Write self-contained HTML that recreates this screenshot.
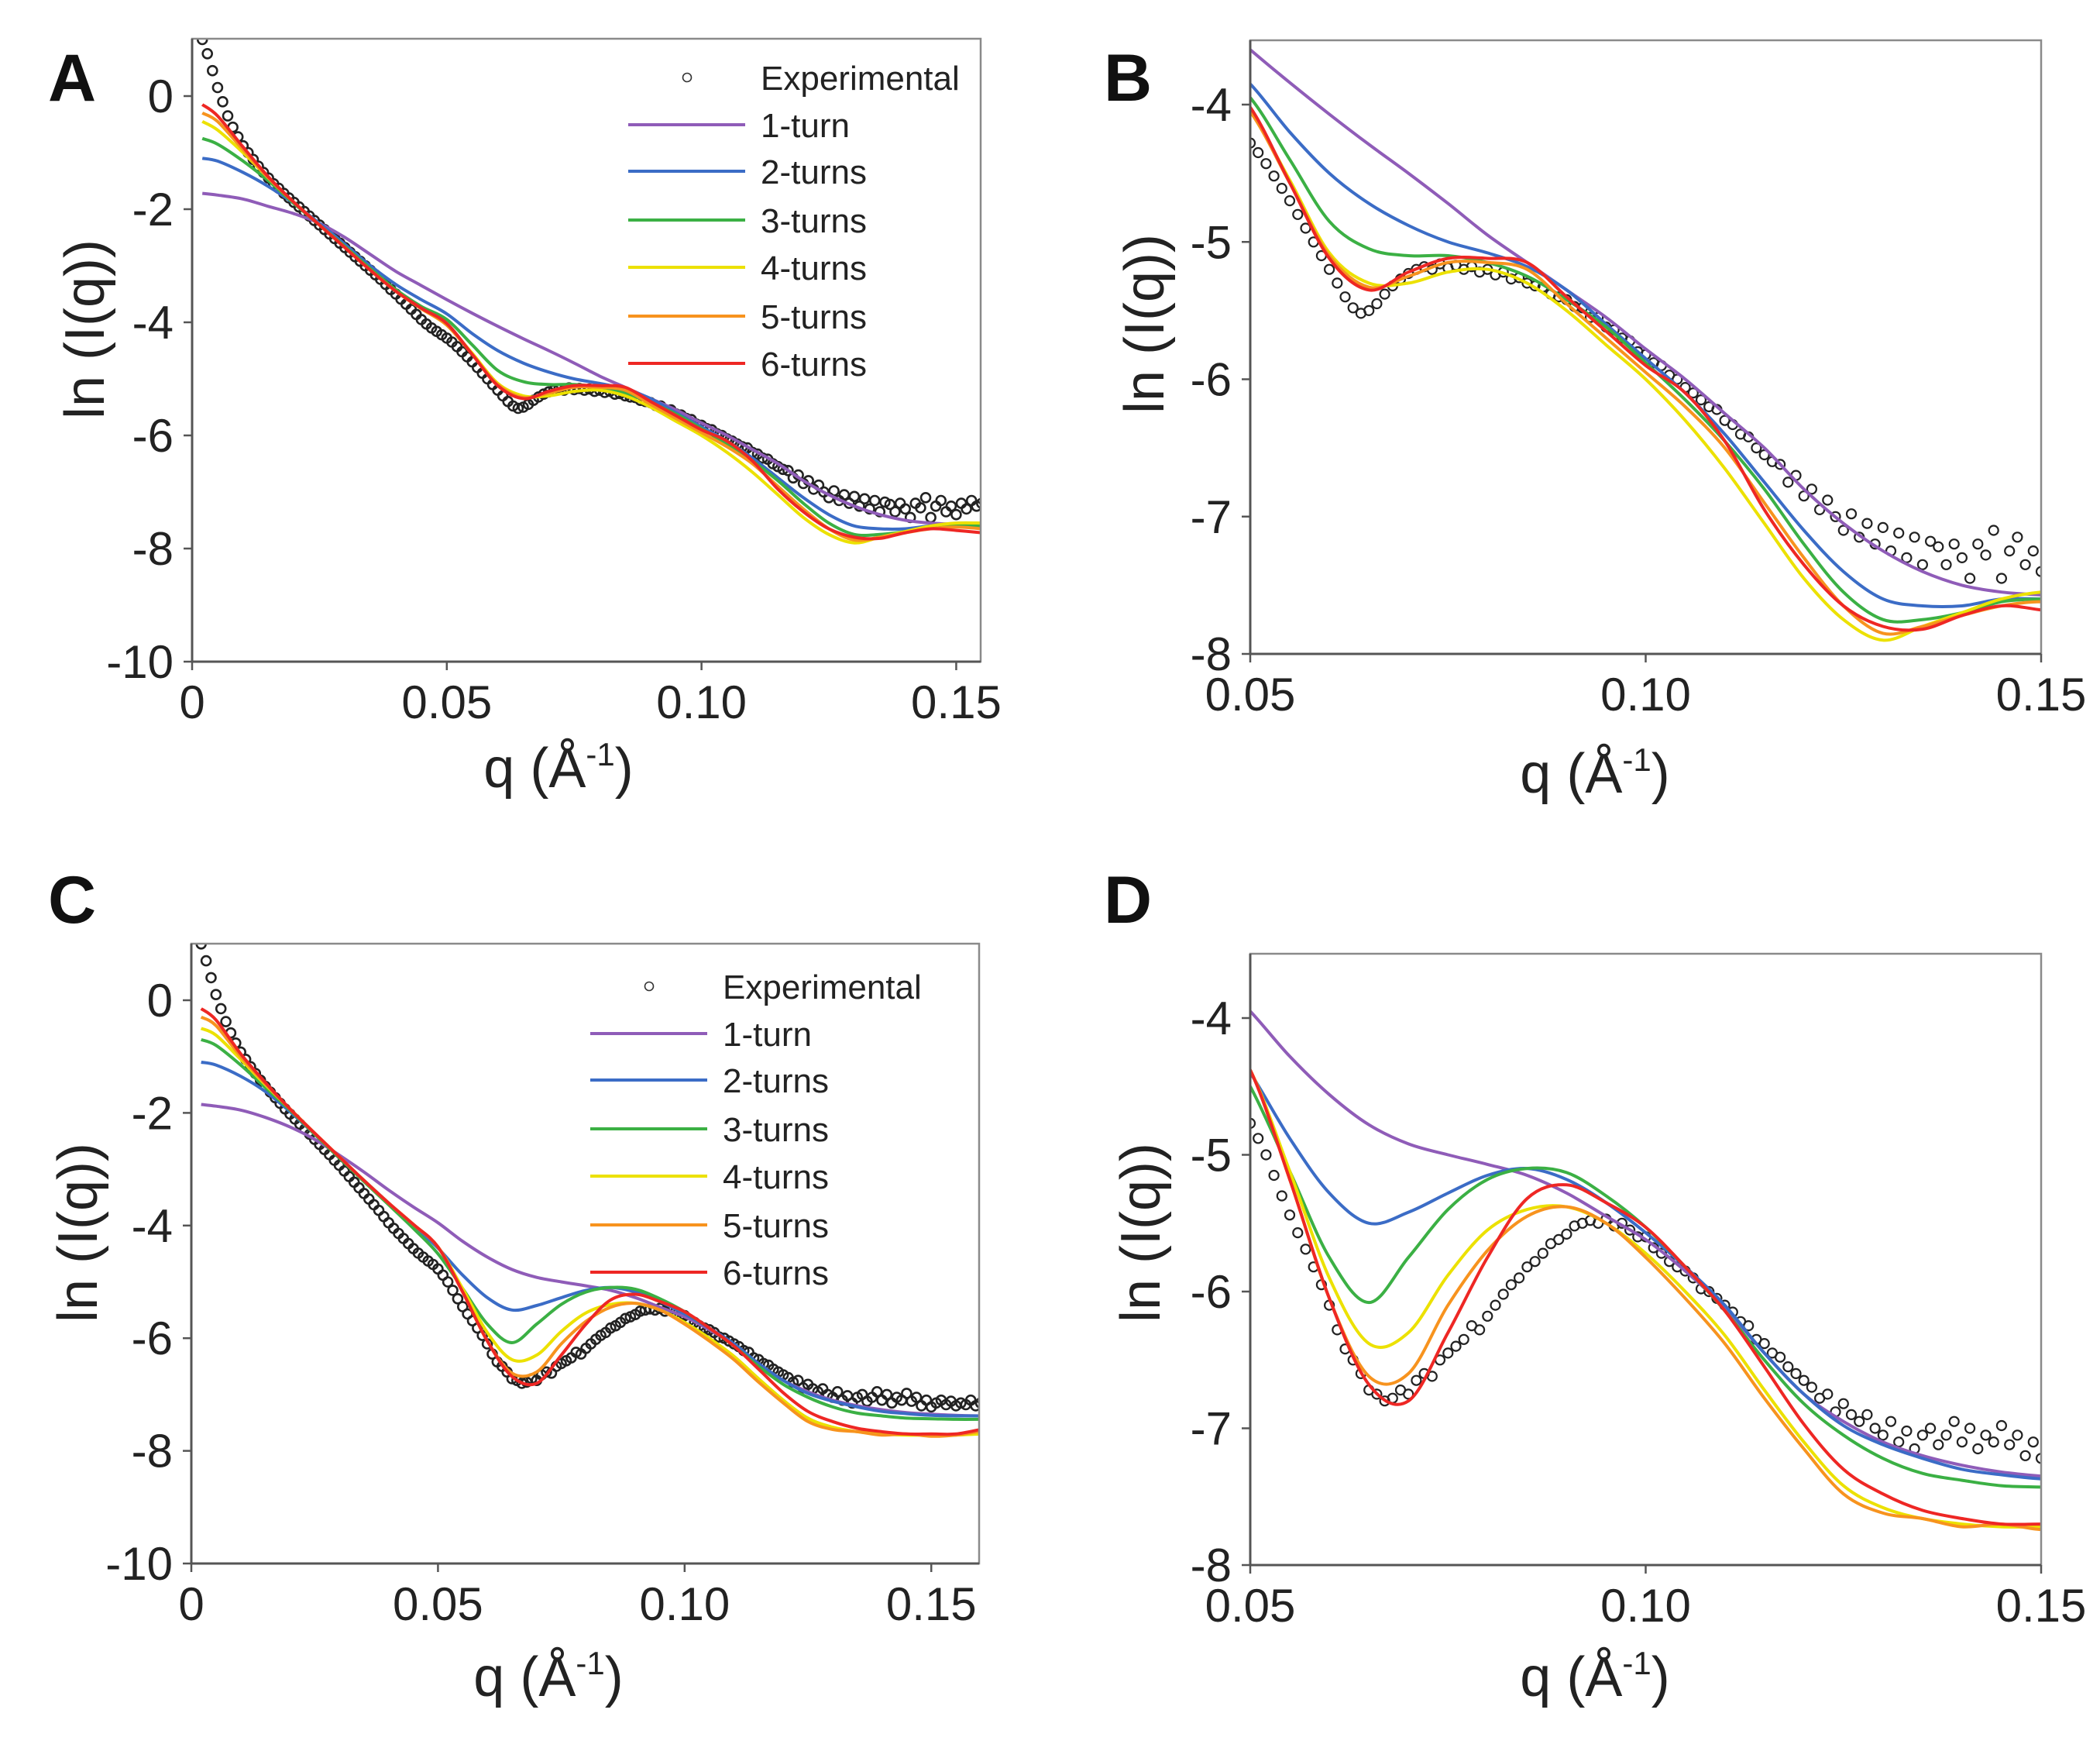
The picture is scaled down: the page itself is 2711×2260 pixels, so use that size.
<!DOCTYPE html>
<html><head><meta charset="utf-8"><style>
html,body{margin:0;padding:0;background:#fff;}
svg{display:block;font-family:"Liberation Sans",Arial,sans-serif;}
</style></head><body>
<svg id="fig" width="2711" height="2260" viewBox="0 0 2711 2260" xmlns="http://www.w3.org/2000/svg">
<rect x="0" y="0" width="2711" height="2260" fill="#fff"/>
</svg>
<script>
// ---------- Data set 1 (panels A & B) ----------
const expQ1 = [.002,.003,.004,.005,.006,.007,.008,.009,.010,.011,.012,.013,.014,.015,.016,.017,.018,.019,.020,.021,.022,.023,.024,.025,.026,.027,.028,.029,.030,.031,.032,.033,.034,.035,.036,.037,.038,.039,.040,.041,.042,.043,.044,.045,.046,.047,.048,.049,.050,.051,.052,.053,.054,.055,.056,.057,.058,.059,.060,.061,.062,.063,.064,.065,.066,.067,.068,.069,.070,.071,.072,.073,.074,.075,.076,.077,.078,.079,.080,.081,.082,.083,.084,.085,.086,.087,.088,.089,.090,.091,.092,.093,.094,.095,.096,.097,.098,.099,.100,.101,.102,.103,.104,.105,.106,.107,.108,.109,.110,.111,.112,.113,.114,.115,.116,.117,.118,.119,.120,.121,.122,.123,.124,.125,.126,.127,.128,.129,.130,.131,.132,.133,.134,.135,.136,.137,.138,.139,.140,.141,.142,.143,.144,.145,.146,.147,.148,.149,.150,.151,.152,.153,.154,.155];
const expY1 = [1.0,0.75,0.45,0.15,-0.1,-0.35,-0.55,-0.72,-0.88,-1.0,
-1.12,-1.24,-1.35,-1.45,-1.55,-1.63,-1.72,-1.8,-1.88,-1.96,
-2.04,-2.12,-2.2,-2.28,-2.36,-2.44,-2.52,-2.6,-2.68,-2.76,
-2.84,-2.92,-3.0,-3.08,-3.16,-3.24,-3.33,-3.42,-3.5,-3.59,
-3.68,-3.77,-3.86,-3.95,-4.03,-4.1,-4.16,-4.22,-4.28,-4.35,
-4.43,-4.52,-4.61,-4.7,-4.8,-4.9,-5.0,-5.1,-5.2,-5.3,
-5.4,-5.48,-5.52,-5.5,-5.45,-5.38,-5.32,-5.27,-5.23,-5.2,
-5.18,-5.2,-5.16,-5.19,-5.17,-5.2,-5.18,-5.22,-5.2,-5.24,
-5.22,-5.27,-5.26,-5.3,-5.32,-5.33,-5.38,-5.4,-5.42,-5.47,
-5.48,-5.55,-5.55,-5.62,-5.64,-5.7,-5.72,-5.8,-5.82,-5.88,
-5.9,-5.97,-6.0,-6.06,-6.1,-6.15,-6.2,-6.22,-6.3,-6.33,
-6.4,-6.42,-6.5,-6.55,-6.6,-6.62,-6.75,-6.7,-6.85,-6.8,
-6.95,-6.88,-7.0,-7.1,-6.98,-7.15,-7.05,-7.2,-7.08,-7.25,
-7.12,-7.3,-7.15,-7.35,-7.18,-7.22,-7.35,-7.2,-7.3,-7.45,
-7.2,-7.28,-7.1,-7.45,-7.25,-7.15,-7.35,-7.25,-7.4,-7.2,
-7.3,-7.15,-7.25,-7.2];
const modelQ1 = [.002,.005,.01,.015,.02,.025,.03,.035,.04,.045,.05,.055,.06,.065,.07,.075,.08,.085,.09,.095,.1,.105,.11,.115,.12,.125,.13,.135,.14,.145,.15,.155];
const turn1_A = [-1.72,-1.75,-1.82,-1.95,-2.08,-2.25,-2.5,-2.8,-3.1,-3.35,-3.6,-3.84,-4.07,-4.29,-4.5,-4.72,-4.95,-5.15,-5.35,-5.55,-5.78,-6.0,-6.25,-6.5,-6.8,-7.05,-7.25,-7.4,-7.5,-7.55,-7.57,-7.58];
const turn2_A = [-1.1,-1.15,-1.35,-1.6,-1.9,-2.25,-2.62,-3.0,-3.33,-3.6,-3.85,-4.2,-4.5,-4.72,-4.88,-5.0,-5.08,-5.18,-5.35,-5.6,-5.85,-6.1,-6.4,-6.75,-7.1,-7.4,-7.6,-7.65,-7.65,-7.6,-7.6,-7.6];
const turn3_A = [-0.75,-0.85,-1.15,-1.5,-1.9,-2.28,-2.66,-3.05,-3.42,-3.72,-3.95,-4.4,-4.85,-5.05,-5.1,-5.1,-5.15,-5.25,-5.42,-5.62,-5.88,-6.15,-6.45,-6.8,-7.2,-7.55,-7.75,-7.75,-7.7,-7.62,-7.6,-7.6];
const turn4_A = [-0.45,-0.6,-1.0,-1.45,-1.88,-2.28,-2.68,-3.08,-3.45,-3.76,-4.05,-4.55,-5.08,-5.3,-5.3,-5.22,-5.2,-5.3,-5.5,-5.75,-6.0,-6.3,-6.65,-7.05,-7.45,-7.75,-7.9,-7.8,-7.7,-7.6,-7.55,-7.55];
const turn5_A = [-0.3,-0.45,-0.95,-1.45,-1.88,-2.28,-2.68,-3.08,-3.45,-3.76,-4.05,-4.57,-5.1,-5.33,-5.25,-5.15,-5.15,-5.2,-5.45,-5.7,-5.95,-6.2,-6.5,-6.9,-7.3,-7.65,-7.85,-7.8,-7.72,-7.65,-7.62,-7.65];
const turn6_A = [-0.15,-0.35,-0.9,-1.43,-1.88,-2.28,-2.68,-3.08,-3.45,-3.75,-4.02,-4.57,-5.12,-5.35,-5.22,-5.12,-5.12,-5.15,-5.4,-5.65,-5.9,-6.1,-6.45,-6.95,-7.35,-7.65,-7.8,-7.82,-7.72,-7.65,-7.68,-7.72];

// ---------- Data set 2 (panels C & D) ----------
const expQ2 = [.002,.003,.004,.005,.006,.007,.008,.009,.010,.011,.012,.013,.014,.015,.016,.017,.018,.019,.020,.021,.022,.023,.024,.025,.026,.027,.028,.029,.030,.031,.032,.033,.034,.035,.036,.037,.038,.039,.040,.041,.042,.043,.044,.045,.046,.047,.048,.049,.050,.051,.052,.053,.054,.055,.056,.057,.058,.059,.060,.061,.062,.063,.064,.065,.066,.067,.068,.069,.070,.071,.072,.073,.074,.075,.076,.077,.078,.079,.080,.081,.082,.083,.084,.085,.086,.087,.088,.089,.090,.091,.092,.093,.094,.095,.096,.097,.098,.099,.100,.101,.102,.103,.104,.105,.106,.107,.108,.109,.110,.111,.112,.113,.114,.115,.116,.117,.118,.119,.120,.121,.122,.123,.124,.125,.126,.127,.128,.129,.130,.131,.132,.133,.134,.135,.136,.137,.138,.139,.140,.141,.142,.143,.144,.145,.146,.147,.148,.149,.150,.151,.152,.153,.154,.155,.156,.157,.158,.159,.160];
const expY2 = [1.0,0.7,0.4,0.1,-0.15,-0.38,-0.58,-0.76,-0.92,-1.05,
-1.18,-1.3,-1.42,-1.53,-1.63,-1.73,-1.83,-1.93,-2.02,-2.11,
-2.2,-2.29,-2.38,-2.47,-2.56,-2.65,-2.74,-2.84,-2.93,-3.03,
-3.13,-3.23,-3.33,-3.43,-3.53,-3.63,-3.73,-3.84,-3.95,-4.05,
-4.14,-4.23,-4.32,-4.41,-4.49,-4.56,-4.63,-4.69,-4.77,-4.88,
-5.0,-5.15,-5.3,-5.44,-5.57,-5.69,-5.82,-5.95,-6.1,-6.28,
-6.42,-6.5,-6.6,-6.72,-6.75,-6.8,-6.78,-6.72,-6.75,-6.65,
-6.6,-6.62,-6.5,-6.45,-6.4,-6.35,-6.25,-6.28,-6.18,-6.1,
-6.02,-5.95,-5.9,-5.82,-5.78,-5.72,-5.65,-5.62,-5.58,-5.52,
-5.5,-5.48,-5.5,-5.47,-5.52,-5.5,-5.55,-5.6,-5.6,-5.68,
-5.72,-5.78,-5.82,-5.85,-5.9,-5.98,-6.0,-6.05,-6.1,-6.15,
-6.22,-6.25,-6.35,-6.38,-6.45,-6.48,-6.55,-6.6,-6.65,-6.7,
-6.78,-6.75,-6.88,-6.82,-6.9,-6.95,-6.9,-7.0,-7.05,-6.95,
-7.1,-7.02,-7.15,-7.05,-7.0,-7.12,-7.05,-6.95,-7.1,-7.0,
-7.15,-7.05,-7.1,-6.98,-7.12,-7.05,-7.2,-7.1,-7.22,-7.15,
-7.1,-7.18,-7.12,-7.2,-7.15,-7.18,-7.1,-7.2,-7.15];
const modelQ2 = [.002,.005,.01,.015,.02,.025,.03,.035,.04,.045,.05,.055,.06,.065,.07,.075,.08,.085,.09,.095,.1,.105,.11,.115,.12,.125,.13,.135,.14,.145,.15,.155,.16];
const turn1_C = [-1.85,-1.88,-1.95,-2.08,-2.25,-2.47,-2.75,-3.05,-3.37,-3.67,-3.95,-4.28,-4.56,-4.78,-4.92,-5.0,-5.07,-5.15,-5.28,-5.45,-5.62,-5.85,-6.12,-6.45,-6.75,-6.95,-7.1,-7.2,-7.27,-7.32,-7.35,-7.37,-7.38];
const turn2_C = [-1.1,-1.15,-1.35,-1.62,-1.98,-2.38,-2.8,-3.2,-3.6,-4.0,-4.4,-4.88,-5.28,-5.5,-5.42,-5.28,-5.15,-5.1,-5.18,-5.35,-5.57,-5.82,-6.1,-6.45,-6.75,-6.98,-7.12,-7.22,-7.3,-7.34,-7.37,-7.38,-7.38];
const turn3_C = [-0.7,-0.8,-1.15,-1.55,-1.95,-2.38,-2.8,-3.22,-3.63,-4.05,-4.5,-5.12,-5.75,-6.08,-5.75,-5.4,-5.18,-5.1,-5.13,-5.3,-5.53,-5.82,-6.14,-6.5,-6.82,-7.05,-7.22,-7.33,-7.38,-7.42,-7.43,-7.44,-7.44];
const turn4_C = [-0.5,-0.62,-1.05,-1.5,-1.93,-2.36,-2.78,-3.2,-3.6,-3.98,-4.38,-5.12,-5.9,-6.38,-6.3,-5.88,-5.55,-5.4,-5.38,-5.5,-5.72,-6.0,-6.32,-6.72,-7.1,-7.42,-7.58,-7.66,-7.7,-7.72,-7.72,-7.72,-7.7];
const turn5_C = [-0.3,-0.45,-1.0,-1.48,-1.93,-2.36,-2.78,-3.2,-3.6,-3.98,-4.38,-5.18,-6.05,-6.62,-6.6,-6.1,-5.7,-5.45,-5.38,-5.5,-5.75,-6.05,-6.38,-6.78,-7.15,-7.48,-7.62,-7.66,-7.72,-7.7,-7.74,-7.72,-7.65];
const turn6_C = [-0.15,-0.35,-0.95,-1.46,-1.93,-2.36,-2.78,-3.2,-3.6,-3.98,-4.38,-5.18,-6.05,-6.68,-6.8,-6.3,-5.75,-5.32,-5.22,-5.35,-5.53,-5.82,-6.14,-6.55,-6.97,-7.3,-7.48,-7.6,-7.66,-7.7,-7.7,-7.7,-7.62];

// ---------- Ticks / legend ----------
const xTicksFull = [0, 0.05, 0.10, 0.15];
const xTickLabelsFull = ['0', '0.05', '0.10', '0.15'];
const yTicksFull = [0, -2, -4, -6, -8, -10];
const yTickLabelsFull = ['0', '-2', '-4', '-6', '-8', '-10'];
const xTicksZoom = [0.05, 0.10, 0.15];
const xTickLabelsZoom = ['0.05', '0.10', '0.15'];
const yTicksZoom = [-4, -5, -6, -7, -8];
const yTickLabelsZoom = ['-4', '-5', '-6', '-7', '-8'];
const seriesNames = ['1-turn', '2-turns', '3-turns', '4-turns', '5-turns', '6-turns'];
const seriesColors = ['#8f5cb8', '#3b6cc6', '#3bb044', '#ece100', '#f7931e', '#ee2724'];

const NS = 'http://www.w3.org/2000/svg';
const svg = document.getElementById('fig');
function mk(tag, attrs, parent) {
  const e = document.createElementNS(NS, tag);
  for (const k in attrs) e.setAttribute(k, attrs[k]);
  (parent || svg).appendChild(e);
  return e;
}

function smoothPath(pts) {
  let d = 'M' + pts[0][0].toFixed(1) + ',' + pts[0][1].toFixed(1);
  for (let i = 0; i < pts.length - 1; i++) {
    const p0 = pts[Math.max(0, i - 1)], p1 = pts[i], p2 = pts[i + 1], p3 = pts[Math.min(pts.length - 1, i + 2)];
    const c1x = p1[0] + (p2[0] - p0[0]) / 6, c1y = p1[1] + (p2[1] - p0[1]) / 6;
    const c2x = p2[0] - (p3[0] - p1[0]) / 6, c2y = p2[1] - (p3[1] - p1[1]) / 6;
    d += ' C' + c1x.toFixed(1) + ',' + c1y.toFixed(1) + ' ' + c2x.toFixed(1) + ',' + c2y.toFixed(1) + ' ' + p2[0].toFixed(1) + ',' + p2[1].toFixed(1);
  }
  return d;
}

function panel(cfg) {
  const g = mk('g', {});
  
  
  const sx = q => cfg.left + (q - cfg.xmin) / (cfg.xmax - cfg.xmin) * (cfg.right - cfg.left);
  const sy = v => cfg.ty0 + (v - cfg.yv0) / (cfg.yv1 - cfg.yv0) * (cfg.ty1 - cfg.ty0);
  const clipId = 'clip' + cfg.id;
  const cp = mk('clipPath', { id: clipId }, g);
  mk('rect', { x: cfg.left, y: cfg.top, width: cfg.right - cfg.left, height: cfg.bottom - cfg.top }, cp);

  const L = mk('text', { x: cfg.letterX, y: cfg.letterY, 'font-size': 86, 'font-weight': 'bold', fill: '#111' }, g);
  L.textContent = cfg.id;
  
  

  const plot = mk('g', { 'clip-path': 'url(#' + clipId + ')' }, g);
  
  

  const eg = mk('g', { fill: 'none', stroke: '#222', 'stroke-width': cfg.ptStroke }, plot);
  
  
  for (let i = 0; i < cfg.expQ.length; i++) {
    if (cfg.expQ[i] < cfg.xmin - 0.001) continue;
    const c = mk('circle', { cx: sx(cfg.expQ[i]).toFixed(1), cy: sy(cfg.expY[i]).toFixed(1), r: cfg.ptR }, eg);
    
    
  }
  cfg.models.forEach((ys, si) => {
    const pts = [];
    for (let i = 0; i < cfg.modelQ.length; i++) pts.push([sx(cfg.modelQ[i]), sy(ys[i])]);
    const p = mk('path', { d: smoothPath(pts), fill: 'none', stroke: seriesColors[si], 'stroke-width': 4, 'stroke-linejoin': 'round' }, plot);
    
    
  });

  const fr = mk('rect', { x: cfg.left, y: cfg.top, width: cfg.right - cfg.left, height: cfg.bottom - cfg.top, fill: 'none', stroke: '#8a8a8a', 'stroke-width': 2.5 }, g);
  
  
  mk('line', { x1: cfg.left, y1: cfg.top, x2: cfg.left, y2: cfg.bottom, stroke: '#555', 'stroke-width': 3 }, g);
  mk('line', { x1: cfg.left, y1: cfg.bottom, x2: cfg.right, y2: cfg.bottom, stroke: '#555', 'stroke-width': 3 }, g);

  cfg.xTicks.forEach((t, i) => {
    const x = sx(t);
    mk('line', { x1: x, y1: cfg.bottom, x2: x, y2: cfg.bottom + 11, stroke: '#555', 'stroke-width': 2.5 }, g);
    const tx = mk('text', { x: x, y: cfg.bottom + 73, 'font-size': 60, 'text-anchor': 'middle', fill: '#222' }, g);
    tx.textContent = cfg.xTickLabels[i];
    
    
  });
  cfg.yTicks.forEach((t, i) => {
    const y = sy(t);
    mk('line', { x1: cfg.left - 11, y1: y, x2: cfg.left, y2: y, stroke: '#555', 'stroke-width': 2.5 }, g);
    const ty = mk('text', { x: cfg.left - 24, y: y + 21, 'font-size': 60, 'text-anchor': 'end', fill: '#222' }, g);
    ty.textContent = cfg.yTickLabels[i];
    
    
  });
  const xt = mk('text', { x: cfg.xTitleX, y: cfg.xTitleY, 'font-size': 72, 'text-anchor': 'middle', fill: '#222' }, g);
  xt.innerHTML = 'q (Å<tspan font-size="42" dy="-28">-1</tspan><tspan dy="28">)</tspan>';
  
  
  const yt = mk('text', { x: 0, y: 0, 'font-size': 72, 'text-anchor': 'middle', fill: '#222', transform: 'translate(' + (cfg.yTitleX + 25) + ',' + cfg.yTitleY + ') rotate(-90)' }, g);
  yt.textContent = 'ln (I(q))';
  
  

  if (cfg.legend) {
    const lg = mk('g', {}, g);
    
    
    const lx = cfg.legend;
    const rows = lx.rows;
    const c = mk('circle', { cx: lx.marker, cy: rows[0], r: 5.5, fill: 'none', stroke: '#333', 'stroke-width': 1.6 }, lg);
    
    
    const t0 = mk('text', { x: lx.text, y: rows[0] + 16, 'font-size': 44, fill: '#222' }, lg);
    t0.textContent = 'Experimental';
    
    
    seriesNames.forEach((n, i) => {
      const y = rows[i + 1];
      const ln = mk('line', { x1: lx.l1, y1: y, x2: lx.l2, y2: y, stroke: seriesColors[i], 'stroke-width': 4 }, lg);
      
      
      const t = mk('text', { x: lx.text, y: y + 16, 'font-size': 44, fill: '#222' }, lg);
      t.textContent = n;
      
      
    });
  }
}

panel({ id: 'A', left: 248, right: 1266, top: 50, bottom: 854, xmin: 0, xmax: 0.1548,
  yv0: 0, ty0: 124, yv1: -10, ty1: 854, ptR: 6, ptStroke: 2.6,
  expQ: expQ1, expY: expY1, modelQ: modelQ1, models: [turn1_A, turn2_A, turn3_A, turn4_A, turn5_A, turn6_A],
  xTicks: xTicksFull, xTickLabels: xTickLabelsFull, yTicks: yTicksFull, yTickLabels: yTickLabelsFull,
  letterX: 62, letterY: 130, xTitleX: 721, xTitleY: 1016, yTitleX: 109, yTitleY: 425,
  legend: { marker: 887, l1: 811, l2: 962, text: 982, rows: [100, 161, 221, 284, 345, 408, 469] } });

panel({ id: 'B', left: 1614, right: 2635, top: 52, bottom: 844, xmin: 0.05, xmax: 0.15,
  yv0: -4, ty0: 135, yv1: -8, ty1: 844, ptR: 6, ptStroke: 2.2,
  expQ: expQ1, expY: expY1, modelQ: modelQ1, models: [turn1_A, turn2_A, turn3_A, turn4_A, turn5_A, turn6_A],
  xTicks: xTicksZoom, xTickLabels: xTickLabelsZoom, yTicks: yTicksZoom, yTickLabels: yTickLabelsZoom,
  letterX: 1425, letterY: 130, xTitleX: 2059, xTitleY: 1023, yTitleX: 1477, yTitleY: 418 });

panel({ id: 'C', left: 247, right: 1264, top: 1218, bottom: 2018, xmin: 0, xmax: 0.1597,
  yv0: 0, ty0: 1291, yv1: -10, ty1: 2018, ptR: 6, ptStroke: 2.6,
  expQ: expQ2, expY: expY2, modelQ: modelQ2, models: [turn1_C, turn2_C, turn3_C, turn4_C, turn5_C, turn6_C],
  xTicks: xTicksFull, xTickLabels: xTickLabelsFull, yTicks: yTicksFull, yTickLabels: yTickLabelsFull,
  letterX: 62, letterY: 1191, xTitleX: 708, xTitleY: 2189, yTitleX: 100, yTitleY: 1591,
  legend: { marker: 838, l1: 762, l2: 913, text: 933, rows: [1273, 1334, 1394, 1457, 1518, 1581, 1642] } });

panel({ id: 'D', left: 1614, right: 2635, top: 1231, bottom: 2020, xmin: 0.05, xmax: 0.15,
  yv0: -4, ty0: 1314, yv1: -8, ty1: 2020, ptR: 6, ptStroke: 2.2,
  expQ: expQ2, expY: expY2, modelQ: modelQ2, models: [turn1_C, turn2_C, turn3_C, turn4_C, turn5_C, turn6_C],
  xTicks: xTicksZoom, xTickLabels: xTickLabelsZoom, yTicks: yTicksZoom, yTickLabels: yTickLabelsZoom,
  letterX: 1425, letterY: 1191, xTitleX: 2059, xTitleY: 2189, yTitleX: 1472, yTitleY: 1591 });
</script>
</body></html>
